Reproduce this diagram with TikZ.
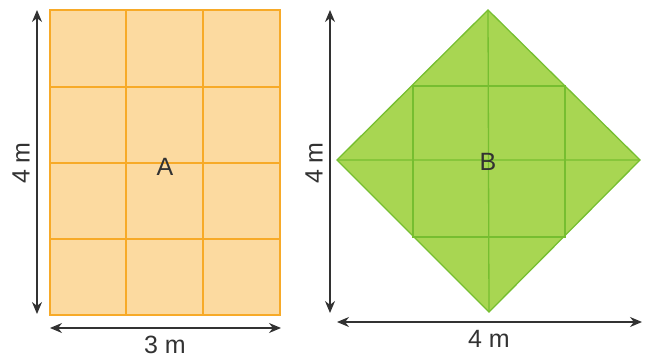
\documentclass[tikz,border=0pt]{standalone}
\usepackage{fontspec}
\setmainfont{Liberation Sans}
\usetikzlibrary{arrows.meta}
\definecolor{orfill}{RGB}{252,218,160}
\definecolor{orline}{RGB}{247,170,40}
\definecolor{grfill}{RGB}{168,214,82}
\definecolor{grline}{RGB}{118,190,48}
\definecolor{arr}{RGB}{50,50,50}
\begin{document}
\begin{tikzpicture}[x=1pt,y=-1pt,
  dim/.style={draw=arr,line width=1.2pt,{Stealth[length=12pt,width=10pt]}-{Stealth[length=12pt,width=10pt]}},
  lab/.style={font=\fontsize{25}{30}\selectfont,text=arr,inner sep=0pt},
  orgrid/.style={draw=orline,line width=1.4pt},
  grgrid/.style={draw=grline,line width=1.3pt}]
\useasboundingbox (0,0) rectangle (652,358);
% Rectangle A
\fill[orfill] (50,10) rectangle (280,315);
\draw[orgrid] (126,10) -- (126,315) (203,10) -- (203,315);
\draw[orgrid] (50,87) -- (280,87) (50,163) -- (280,163) (50,239) -- (280,239);
\draw[orgrid] (50,10) rectangle (280,315);
\node[lab] (A) at (165,167) {A};
% dimensions A
\coordinate (av1) at (37,10);
\coordinate (av2) at (37,314);
\draw[dim] (av1) -- (av2);
\node[lab,rotate=90] (a4m) at (21,163) {4 m};
\coordinate (ah1) at (50,328);
\coordinate (ah2) at (281,328);
\draw[dim] (ah1) -- (ah2);
\node[lab] (a3m) at (165,345) {3 m};
% Diamond B
\coordinate (T) at (488,10);
\coordinate (L) at (337,160);
\coordinate (R) at (640,160);
\coordinate (Bo) at (489,312);
\fill[grfill] (T) -- (R) -- (Bo) -- (L) -- cycle;
\draw[grgrid] (413,86) rectangle (565,237);
\draw[grgrid] (T) -- (Bo) (L) -- (R);
\draw[grgrid,line join=miter] (T) -- (R) -- (Bo) -- (L) -- cycle;
\node[lab] (B) at (488,162) {B};
% dimensions B
\coordinate (bv1) at (330,10);
\coordinate (bv2) at (330,313);
\draw[dim] (bv1) -- (bv2);
\node[lab,rotate=90] (b4m) at (314,163) {4 m};
\coordinate (bh1) at (337,322);
\coordinate (bh2) at (642,322);
\draw[dim] (bh1) -- (bh2);
\node[lab] (b4mh) at (489,339) {4 m};
\end{tikzpicture}
\end{document}
